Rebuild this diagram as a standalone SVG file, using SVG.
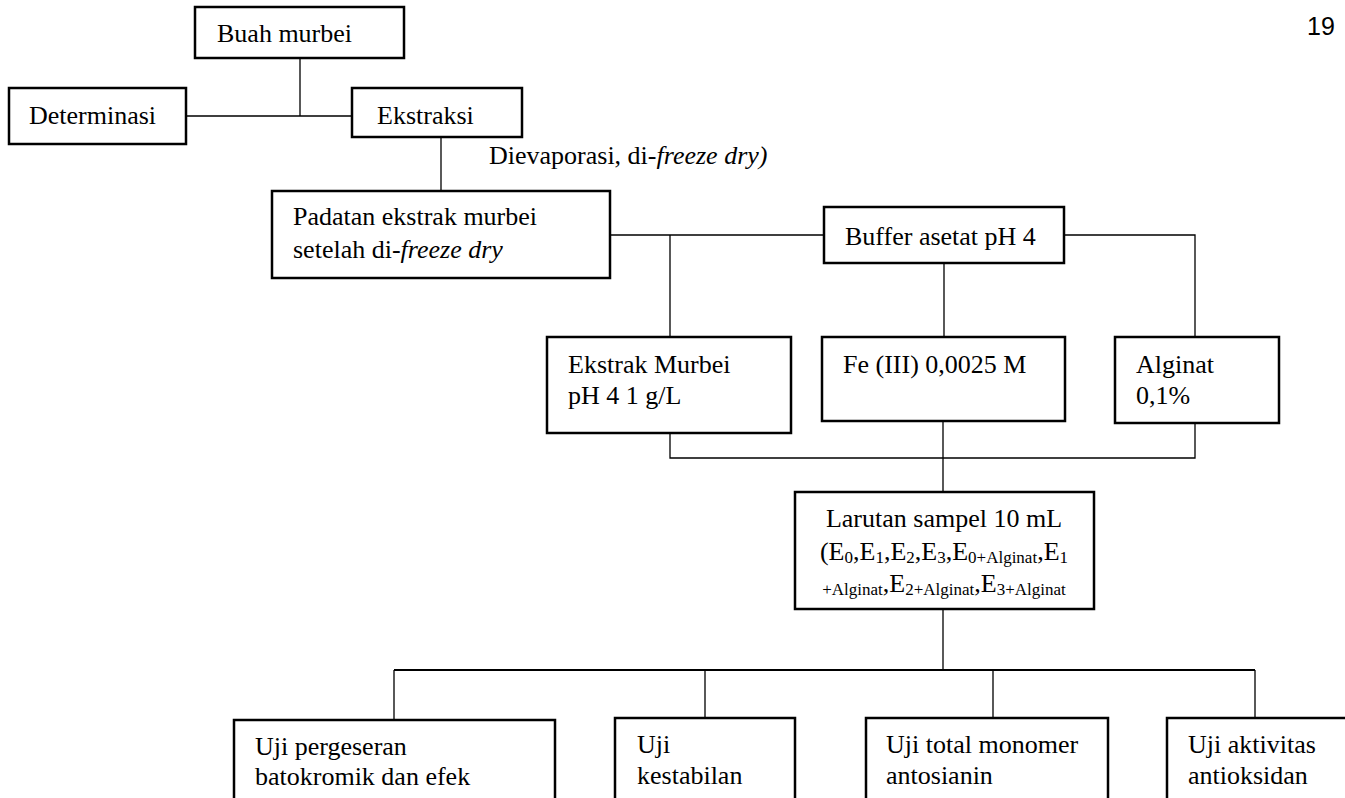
<svg xmlns="http://www.w3.org/2000/svg" width="1345" height="798" viewBox="0 0 1345 798">
<style>
.box{fill:#fff;stroke:#000;stroke-width:2.5}
.ln{fill:none;stroke:#000;stroke-width:1.3}
.t{font-family:"Liberation Serif","Times New Roman",serif;font-size:26px;fill:#000}
.s{font-size:17px}
.it{font-style:italic}
</style>
<rect width="1345" height="798" fill="#fff"/>
<g id="connectors">
<path class="ln" d="M300 58V116M186 116H352"/>
<path class="ln" d="M441 137V191"/>
<path class="ln" d="M610 235H824M670 235V337M1064 235H1195V337M944 263V337"/>
<path class="ln" d="M670 433V458H1195V423M943 421V492"/>
<path class="ln" d="M943 609V670"/>
<path class="ln" d="M394 670H1255" style="stroke-width:2"/>
<path class="ln" d="M394 670V720M705 670V718M993 670V718M1255 670V718"/>
</g>
<g id="page"><text x="1307" y="35" style="font-family:'Liberation Sans',Arial,sans-serif;font-size:25px">19</text></g>
<g id="buah"><rect class="box" x="195" y="7" width="209" height="51"/><text class="t" x="217" y="42">Buah murbei</text></g>
<g id="determinasi"><rect class="box" x="9" y="88" width="177" height="56"/><text class="t" x="29" y="124">Determinasi</text></g>
<g id="ekstraksi"><rect class="box" x="352" y="88" width="170" height="49"/><text class="t" x="377" y="124">Ekstraksi</text></g>
<g id="label-evap"><text class="t" x="489" y="164">Dievaporasi, di-<tspan class="it">freeze dry)</tspan></text></g>
<g id="padatan"><rect class="box" x="272" y="191" width="338" height="87"/><text class="t" x="293" y="225">Padatan ekstrak murbei</text><text class="t" x="293" y="258">setelah di-<tspan class="it">freeze dry</tspan></text></g>
<g id="buffer"><rect class="box" x="824" y="207" width="240" height="56"/><text class="t" x="845" y="245">Buffer asetat pH 4</text></g>
<g id="ekstrak-murbei"><rect class="box" x="547" y="337" width="244" height="96"/><text class="t" x="568" y="373">Ekstrak Murbei</text><text class="t" x="568" y="404">pH 4 1 g/L</text></g>
<g id="fe"><rect class="box" x="822" y="337" width="243" height="84"/><text class="t" x="843" y="373">Fe (III) 0,0025 M</text></g>
<g id="alginat"><rect class="box" x="1115" y="337" width="164" height="86"/><text class="t" x="1136" y="373">Alginat</text><text class="t" x="1136" y="404">0,1%</text></g>
<g id="larutan"><rect class="box" x="795" y="492" width="299" height="117"/>
<text class="t" x="944" y="527" text-anchor="middle">Larutan sampel 10 mL</text>
<text class="t" x="944" y="560" text-anchor="middle">(E<tspan class="s" dy="3">0</tspan><tspan dy="-3">,E</tspan><tspan class="s" dy="3">1</tspan><tspan dy="-3">,E</tspan><tspan class="s" dy="3">2</tspan><tspan dy="-3">,E</tspan><tspan class="s" dy="3">3</tspan><tspan dy="-3">,E</tspan><tspan class="s" dy="3">0+Alginat</tspan><tspan dy="-3">,E</tspan><tspan class="s" dy="3">1</tspan></text>
<text class="t" x="944" y="592" text-anchor="middle"><tspan class="s" dy="3">+Alginat</tspan><tspan dy="-3">,E</tspan><tspan class="s" dy="3">2+Alginat</tspan><tspan dy="-3">,E</tspan><tspan class="s" dy="3">3+Alginat</tspan></text>
</g>
<g id="uji1"><rect class="box" x="234" y="720" width="321" height="90"/><text class="t" x="255" y="755">Uji pergeseran</text><text class="t" x="255" y="785">batokromik dan efek</text></g>
<g id="uji2"><rect class="box" x="615" y="718" width="180" height="92"/><text class="t" x="637" y="753">Uji</text><text class="t" x="637" y="784">kestabilan</text></g>
<g id="uji3"><rect class="box" x="866" y="718" width="242" height="92"/><text class="t" x="886" y="753">Uji total monomer</text><text class="t" x="886" y="784">antosianin</text></g>
<g id="uji4"><rect class="box" x="1167" y="718" width="190" height="92"/><text class="t" x="1188" y="753">Uji aktivitas</text><text class="t" x="1188" y="784">antioksidan</text></g>
</svg>
